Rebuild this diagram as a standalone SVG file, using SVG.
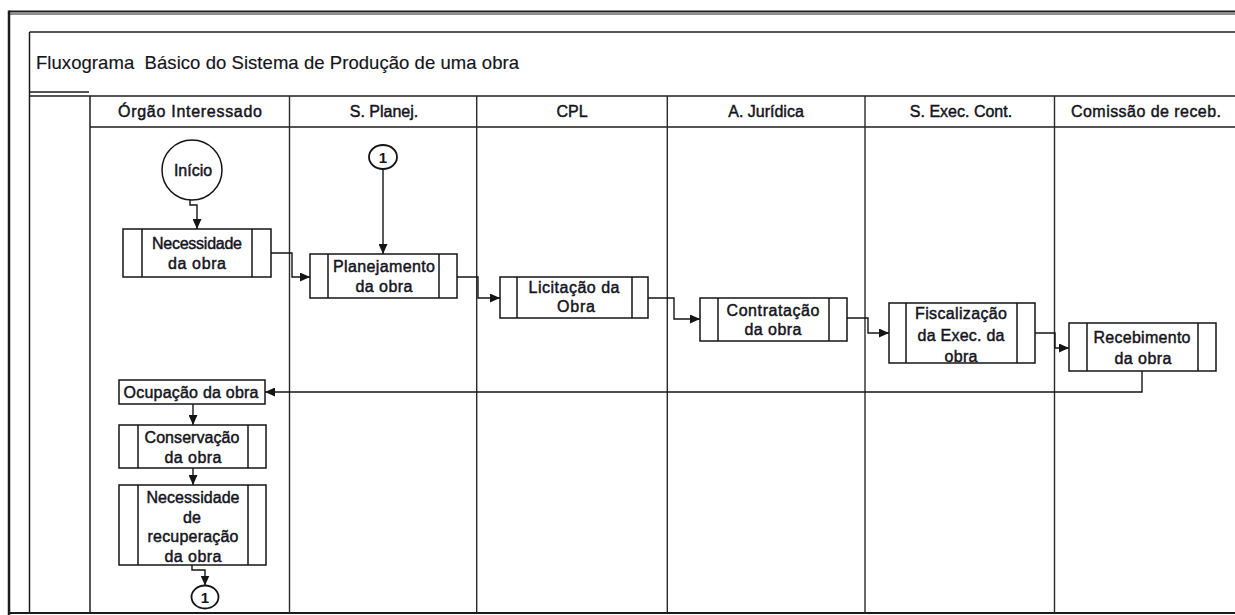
<svg xmlns="http://www.w3.org/2000/svg" width="1235" height="615" viewBox="0 0 1235 615">
  <style>
    .frame { stroke: #1c1c1c; fill: none; }
    .lane { stroke: #2a2a2a; stroke-width: 1.4; fill: none; }
    .box { fill: #ffffff; stroke: #141414; stroke-width: 1.5; }
    .bar { stroke: #141414; stroke-width: 1.5; fill: none; }
    .conn { stroke: #141414; stroke-width: 1.4; fill: none; marker-end: url(#arrow); }
    text { font-family: "Liberation Sans", Arial, sans-serif; fill: #141420; }
    .t { font-size: 16px; text-anchor: middle; stroke: #141420; stroke-width: 0.45; }
    .h { font-size: 16px; text-anchor: middle; stroke: #141420; stroke-width: 0.45; }
    .title { font-size: 18.5px; stroke: #141420; stroke-width: 0.15; }
    .num { font-size: 15px; font-weight: bold; text-anchor: middle; }
  </style>
  <defs>
    <marker id="arrow" markerUnits="userSpaceOnUse" markerWidth="10" markerHeight="9" refX="10" refY="4.5" orient="auto">
      <path d="M0,0 L10,4.5 L0,9 z" fill="#141414"/>
    </marker>
  </defs>

  <rect width="1235" height="615" fill="#ffffff"/>

  <!-- page frame and swimlane grid -->
  <g id="frame">
    <line class="frame" x1="9" y1="11.5" x2="1235" y2="11.5" stroke-width="2"/>
    <line class="frame" x1="9" y1="14" x2="1235" y2="14" stroke-width="1"/>
    <line class="frame" x1="9" y1="10.5" x2="9" y2="615" stroke-width="2.5"/>
    <line class="frame" x1="29.5" y1="32" x2="1235" y2="32" stroke-width="1.5"/>
    <line class="frame" x1="29.5" y1="32" x2="29.5" y2="613" stroke-width="1.5"/>
    <line class="frame" x1="29.5" y1="92" x2="89" y2="92" stroke-width="1.3"/>
    <line class="frame" x1="29.5" y1="96" x2="1235" y2="96" stroke-width="1.5"/>
    <line class="frame" x1="90" y1="96" x2="90" y2="613" stroke-width="1.5"/>
    <line class="frame" x1="90" y1="127" x2="1235" y2="127" stroke-width="1.5"/>
    <line class="frame" x1="9" y1="613" x2="1235" y2="613" stroke-width="2.2"/>
    <line class="lane" x1="289.5" y1="96" x2="289.5" y2="613"/>
    <line class="lane" x1="476.7" y1="96" x2="476.7" y2="613"/>
    <line class="lane" x1="667.3" y1="96" x2="667.3" y2="613"/>
    <line class="lane" x1="865" y1="96" x2="865" y2="613"/>
    <line class="lane" x1="1054.5" y1="96" x2="1054.5" y2="613"/>
  </g>

  <text id="title" class="title" x="36" y="69" textLength="483">Fluxograma&#160; Básico do Sistema de Produção de uma obra</text>

  <!-- lane headers -->
  <g id="headers">
    <text class="h" x="190" y="117" textLength="144">Órgão Interessado</text>
    <text class="h" x="384" y="117">S. Planej.</text>
    <text class="h" x="572" y="117">CPL</text>
    <text class="h" x="766" y="117">A. Jurídica</text>
    <text class="h" x="961" y="117">S. Exec. Cont.</text>
    <text class="h" x="1146" y="117" textLength="150">Comissão de receb.</text>
  </g>

  <!-- connectors -->
  <g id="connectors">
    <path class="conn" d="M190,200 V205 H197 V229"/>
    <path class="conn" d="M271,253 H292 V277 H310"/>
    <path class="conn" d="M383,169 V254"/>
    <path class="conn" d="M457,277 H478 V298 H500"/>
    <path class="conn" d="M648,298 H674 V319 H700"/>
    <path class="conn" d="M847,318 H868 V333 H889"/>
    <path class="conn" d="M1035,333 H1055 V348 H1069"/>
    <path class="conn" d="M1142,371 V392 H265"/>
    <path class="conn" d="M193,404 V425"/>
    <path class="conn" d="M193,468 V485"/>
    <path class="conn" d="M192,565 V570 H205 V585.5"/>
  </g>

  <!-- start terminator -->
  <g id="inicio">
    <circle cx="192" cy="170" r="30" fill="#ffffff" stroke="#141414" stroke-width="1.5"/>
    <text class="t" x="193" y="176">Início</text>
  </g>

  <g id="conector-1-topo">
    <ellipse cx="383" cy="157" rx="14" ry="12" fill="#ffffff" stroke="#141414" stroke-width="1.8"/>
    <text class="num" x="383" y="162.5">1</text>
  </g>

  <g id="necessidade">
    <rect class="box" x="123" y="229" width="148" height="48"/>
    <line class="bar" x1="142" y1="229" x2="142" y2="277"/>
    <line class="bar" x1="252" y1="229" x2="252" y2="277"/>
    <text class="t" x="197" y="249" textLength="90">Necessidade</text>
    <text class="t" x="197" y="269" textLength="58">da obra</text>
  </g>

  <g id="planejamento">
    <rect class="box" x="310" y="254" width="147" height="44"/>
    <line class="bar" x1="328" y1="254" x2="328" y2="298"/>
    <line class="bar" x1="439" y1="254" x2="439" y2="298"/>
    <text class="t" x="384" y="272" textLength="102">Planejamento</text>
    <text class="t" x="384" y="292" textLength="57">da obra</text>
  </g>

  <g id="licitacao">
    <rect class="box" x="500" y="277" width="148" height="41"/>
    <line class="bar" x1="517" y1="277" x2="517" y2="318"/>
    <line class="bar" x1="632" y1="277" x2="632" y2="318"/>
    <text class="t" x="574" y="293" textLength="91">Licitação da</text>
    <text class="t" x="576" y="312" textLength="38">Obra</text>
  </g>

  <g id="contratacao">
    <rect class="box" x="700" y="298" width="147" height="43"/>
    <line class="bar" x1="718" y1="298" x2="718" y2="341"/>
    <line class="bar" x1="829" y1="298" x2="829" y2="341"/>
    <text class="t" x="773" y="316" textLength="93">Contratação</text>
    <text class="t" x="773" y="335" textLength="57">da obra</text>
  </g>

  <g id="fiscalizacao">
    <rect class="box" x="889" y="303" width="146" height="60"/>
    <line class="bar" x1="906" y1="303" x2="906" y2="363"/>
    <line class="bar" x1="1017" y1="303" x2="1017" y2="363"/>
    <text class="t" x="961" y="319" textLength="92">Fiscalização</text>
    <text class="t" x="961" y="341" textLength="87">da Exec. da</text>
    <text class="t" x="961" y="362" textLength="33">obra</text>
  </g>

  <g id="recebimento">
    <rect class="box" x="1069" y="323" width="147" height="48"/>
    <line class="bar" x1="1087" y1="323" x2="1087" y2="371"/>
    <line class="bar" x1="1198" y1="323" x2="1198" y2="371"/>
    <text class="t" x="1142" y="343" textLength="97">Recebimento</text>
    <text class="t" x="1143" y="364" textLength="57">da obra</text>
  </g>

  <g id="ocupacao">
    <rect class="box" x="119" y="380" width="146" height="24"/>
    <text class="t" x="191" y="398" textLength="135">Ocupação da obra</text>
  </g>

  <g id="conservacao">
    <rect class="box" x="119" y="425" width="147" height="43"/>
    <line class="bar" x1="138" y1="425" x2="138" y2="468"/>
    <line class="bar" x1="248" y1="425" x2="248" y2="468"/>
    <text class="t" x="192" y="443" textLength="95">Conservação</text>
    <text class="t" x="193" y="463" textLength="57">da obra</text>
  </g>

  <g id="recuperacao">
    <rect class="box" x="119" y="485" width="147" height="80"/>
    <line class="bar" x1="138" y1="485" x2="138" y2="565"/>
    <line class="bar" x1="248" y1="485" x2="248" y2="565"/>
    <text class="t" x="193" y="503" textLength="93">Necessidade</text>
    <text class="t" x="192" y="522.5">de</text>
    <text class="t" x="193" y="542" textLength="91">recuperação</text>
    <text class="t" x="193" y="561.5" textLength="57">da obra</text>
  </g>

  <g id="conector-1-base">
    <ellipse cx="205" cy="597" rx="13.5" ry="11.5" fill="#ffffff" stroke="#141414" stroke-width="1.8"/>
    <text class="num" x="205" y="602.5">1</text>
  </g>
</svg>
